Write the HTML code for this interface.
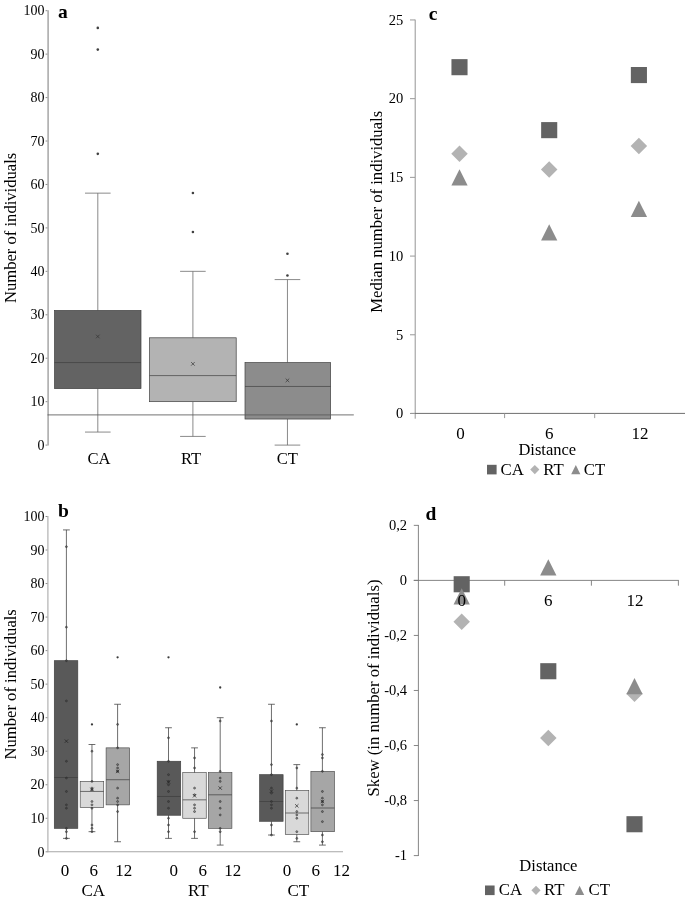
<!DOCTYPE html>
<html lang="en">
<head>
<meta charset="utf-8">
<title>Figure: number of individuals by treatment and distance</title>
<style>
html,body{margin:0;padding:0;background:#fff;}
body{width:685px;height:899px;overflow:hidden;}
svg{display:block;font-family:"Liberation Serif",serif;}
</style>
</head>
<body>
<svg width="685" height="899" viewBox="0 0 685 899">
<rect x="0" y="0" width="685" height="899" fill="#ffffff"/>
<line x1="48.1" y1="10.2" x2="48.1" y2="445.6" stroke="#a6a6a6" stroke-width="1.5"/>
<line x1="45.6" y1="445.1" x2="47.4" y2="445.1" stroke="#8c8c8c" stroke-width="1"/>
<text x="44.4" y="449.8" font-size="14" text-anchor="end" fill="#000">0</text>
<line x1="45.6" y1="401.66" x2="47.4" y2="401.66" stroke="#8c8c8c" stroke-width="1"/>
<text x="44.4" y="406.36" font-size="14" text-anchor="end" fill="#000">10</text>
<line x1="45.6" y1="358.22" x2="47.4" y2="358.22" stroke="#8c8c8c" stroke-width="1"/>
<text x="44.4" y="362.92" font-size="14" text-anchor="end" fill="#000">20</text>
<line x1="45.6" y1="314.78" x2="47.4" y2="314.78" stroke="#8c8c8c" stroke-width="1"/>
<text x="44.4" y="319.48" font-size="14" text-anchor="end" fill="#000">30</text>
<line x1="45.6" y1="271.34" x2="47.4" y2="271.34" stroke="#8c8c8c" stroke-width="1"/>
<text x="44.4" y="276.04" font-size="14" text-anchor="end" fill="#000">40</text>
<line x1="45.6" y1="227.9" x2="47.4" y2="227.9" stroke="#8c8c8c" stroke-width="1"/>
<text x="44.4" y="232.6" font-size="14" text-anchor="end" fill="#000">50</text>
<line x1="45.6" y1="184.46" x2="47.4" y2="184.46" stroke="#8c8c8c" stroke-width="1"/>
<text x="44.4" y="189.16" font-size="14" text-anchor="end" fill="#000">60</text>
<line x1="45.6" y1="141.02" x2="47.4" y2="141.02" stroke="#8c8c8c" stroke-width="1"/>
<text x="44.4" y="145.72" font-size="14" text-anchor="end" fill="#000">70</text>
<line x1="45.6" y1="97.58" x2="47.4" y2="97.58" stroke="#8c8c8c" stroke-width="1"/>
<text x="44.4" y="102.28" font-size="14" text-anchor="end" fill="#000">80</text>
<line x1="45.6" y1="54.14" x2="47.4" y2="54.14" stroke="#8c8c8c" stroke-width="1"/>
<text x="44.4" y="58.84" font-size="14" text-anchor="end" fill="#000">90</text>
<line x1="45.6" y1="10.7" x2="47.4" y2="10.7" stroke="#8c8c8c" stroke-width="1"/>
<text x="44.4" y="15.4" font-size="14" text-anchor="end" fill="#000">100</text>
<text x="16.4" y="227.9" font-size="16.6" text-anchor="middle" transform="rotate(-90 16.4 227.9)" fill="#000">Number of individuals</text>
<text x="62.8" y="18.1" font-size="19.5" text-anchor="middle" font-weight="bold" fill="#000">a</text>
<line x1="97.8" y1="193.15" x2="97.8" y2="310.44" stroke="#6c6c6c" stroke-width="0.8"/>
<line x1="97.8" y1="388.63" x2="97.8" y2="432.07" stroke="#6c6c6c" stroke-width="0.8"/>
<line x1="85" y1="193.15" x2="110.6" y2="193.15" stroke="#6c6c6c" stroke-width="0.8"/>
<line x1="85" y1="432.07" x2="110.6" y2="432.07" stroke="#6c6c6c" stroke-width="0.8"/>
<rect x="54.5" y="310.44" width="86.5" height="78.19" fill="#636363" stroke="#404040" stroke-width="0.7"/>
<line x1="54.5" y1="362.56" x2="141" y2="362.56" stroke="#404040" stroke-width="0.7"/>
<path d="M96 334.7L99.6 338.3M96 338.3L99.6 334.7" stroke="#333" stroke-width="0.7" fill="none"/>
<circle cx="97.8" cy="27.88" r="1.3" fill="#404040"/>
<circle cx="97.8" cy="49.6" r="1.3" fill="#404040"/>
<circle cx="97.8" cy="153.85" r="1.3" fill="#404040"/>
<line x1="192.9" y1="271.34" x2="192.9" y2="337.8" stroke="#6c6c6c" stroke-width="0.8"/>
<line x1="192.9" y1="401.66" x2="192.9" y2="436.41" stroke="#6c6c6c" stroke-width="0.8"/>
<line x1="180.1" y1="271.34" x2="205.7" y2="271.34" stroke="#6c6c6c" stroke-width="0.8"/>
<line x1="180.1" y1="436.41" x2="205.7" y2="436.41" stroke="#6c6c6c" stroke-width="0.8"/>
<rect x="149.5" y="337.8" width="86.7" height="63.86" fill="#b3b3b3" stroke="#404040" stroke-width="0.7"/>
<line x1="149.5" y1="375.6" x2="236.2" y2="375.6" stroke="#404040" stroke-width="0.7"/>
<path d="M191.1 362.07L194.7 365.67M191.1 365.67L194.7 362.07" stroke="#333" stroke-width="0.7" fill="none"/>
<circle cx="192.9" cy="192.95" r="1.3" fill="#404040"/>
<circle cx="192.9" cy="232.04" r="1.3" fill="#404040"/>
<line x1="287.45" y1="279.59" x2="287.45" y2="362.56" stroke="#6c6c6c" stroke-width="0.8"/>
<line x1="287.45" y1="419.04" x2="287.45" y2="445.1" stroke="#6c6c6c" stroke-width="0.8"/>
<line x1="274.65" y1="279.59" x2="300.25" y2="279.59" stroke="#6c6c6c" stroke-width="0.8"/>
<line x1="274.65" y1="445.1" x2="300.25" y2="445.1" stroke="#6c6c6c" stroke-width="0.8"/>
<rect x="245" y="362.56" width="85.6" height="56.47" fill="#8c8c8c" stroke="#404040" stroke-width="0.7"/>
<line x1="245" y1="386.46" x2="330.6" y2="386.46" stroke="#404040" stroke-width="0.7"/>
<path d="M285.65 378.57L289.25 382.17M285.65 382.17L289.25 378.57" stroke="#333" stroke-width="0.7" fill="none"/>
<circle cx="287.45" cy="253.76" r="1.3" fill="#404040"/>
<circle cx="287.45" cy="275.48" r="1.3" fill="#404040"/>
<line x1="47.5" y1="414.9" x2="353.8" y2="414.9" stroke="#5a5a5a" stroke-width="0.85"/>
<text x="99" y="464.4" font-size="16.6" text-anchor="middle" fill="#000">CA</text>
<text x="191.1" y="464.4" font-size="16.6" text-anchor="middle" fill="#000">RT</text>
<text x="287.4" y="464.4" font-size="16.6" text-anchor="middle" fill="#000">CT</text>
<line x1="47.9" y1="516" x2="47.9" y2="852.3" stroke="#b4b4b4" stroke-width="1.25"/>
<line x1="47.2" y1="851.7" x2="343" y2="851.7" stroke="#a6a6a6" stroke-width="1.1"/>
<line x1="45.6" y1="851.8" x2="47.4" y2="851.8" stroke="#8c8c8c" stroke-width="1"/>
<text x="44.4" y="856.5" font-size="14" text-anchor="end" fill="#000">0</text>
<line x1="45.6" y1="818.27" x2="47.4" y2="818.27" stroke="#8c8c8c" stroke-width="1"/>
<text x="44.4" y="822.97" font-size="14" text-anchor="end" fill="#000">10</text>
<line x1="45.6" y1="784.74" x2="47.4" y2="784.74" stroke="#8c8c8c" stroke-width="1"/>
<text x="44.4" y="789.44" font-size="14" text-anchor="end" fill="#000">20</text>
<line x1="45.6" y1="751.21" x2="47.4" y2="751.21" stroke="#8c8c8c" stroke-width="1"/>
<text x="44.4" y="755.91" font-size="14" text-anchor="end" fill="#000">30</text>
<line x1="45.6" y1="717.68" x2="47.4" y2="717.68" stroke="#8c8c8c" stroke-width="1"/>
<text x="44.4" y="722.38" font-size="14" text-anchor="end" fill="#000">40</text>
<line x1="45.6" y1="684.15" x2="47.4" y2="684.15" stroke="#8c8c8c" stroke-width="1"/>
<text x="44.4" y="688.85" font-size="14" text-anchor="end" fill="#000">50</text>
<line x1="45.6" y1="650.62" x2="47.4" y2="650.62" stroke="#8c8c8c" stroke-width="1"/>
<text x="44.4" y="655.32" font-size="14" text-anchor="end" fill="#000">60</text>
<line x1="45.6" y1="617.09" x2="47.4" y2="617.09" stroke="#8c8c8c" stroke-width="1"/>
<text x="44.4" y="621.79" font-size="14" text-anchor="end" fill="#000">70</text>
<line x1="45.6" y1="583.56" x2="47.4" y2="583.56" stroke="#8c8c8c" stroke-width="1"/>
<text x="44.4" y="588.26" font-size="14" text-anchor="end" fill="#000">80</text>
<line x1="45.6" y1="550.03" x2="47.4" y2="550.03" stroke="#8c8c8c" stroke-width="1"/>
<text x="44.4" y="554.73" font-size="14" text-anchor="end" fill="#000">90</text>
<line x1="45.6" y1="516.5" x2="47.4" y2="516.5" stroke="#8c8c8c" stroke-width="1"/>
<text x="44.4" y="521.2" font-size="14" text-anchor="end" fill="#000">100</text>
<text x="16.4" y="684.3" font-size="16.6" text-anchor="middle" transform="rotate(-90 16.4 684.3)" fill="#000">Number of individuals</text>
<text x="63.4" y="516.5" font-size="19.5" text-anchor="middle" font-weight="bold" fill="#000">b</text>
<rect x="54.3" y="660.68" width="23.5" height="167.65" fill="#595959" stroke="#3d3d3d" stroke-width="0.65"/>
<line x1="66.4" y1="529.91" x2="66.4" y2="660.68" stroke="#3d3d3d" stroke-width="0.75"/>
<line x1="66.4" y1="828.33" x2="66.4" y2="838.39" stroke="#3d3d3d" stroke-width="0.75"/>
<line x1="63" y1="529.91" x2="69.8" y2="529.91" stroke="#3d3d3d" stroke-width="0.75"/>
<line x1="63" y1="838.39" x2="69.8" y2="838.39" stroke="#3d3d3d" stroke-width="0.75"/>
<line x1="54.3" y1="777.5" x2="77.8" y2="777.5" stroke="#3d3d3d" stroke-width="0.7"/>
<circle cx="66.4" cy="546.68" r="0.95" fill="#333" fill-opacity="0.4" stroke="#2e2e2e" stroke-width="0.6"/>
<circle cx="66.4" cy="627.15" r="0.95" fill="#333" fill-opacity="0.4" stroke="#2e2e2e" stroke-width="0.6"/>
<circle cx="66.4" cy="660.68" r="0.95" fill="#333" fill-opacity="0.4" stroke="#2e2e2e" stroke-width="0.6"/>
<circle cx="66.4" cy="700.91" r="0.95" fill="#333" fill-opacity="0.4" stroke="#2e2e2e" stroke-width="0.6"/>
<circle cx="66.4" cy="761.27" r="0.95" fill="#333" fill-opacity="0.4" stroke="#2e2e2e" stroke-width="0.6"/>
<circle cx="66.4" cy="778.03" r="0.95" fill="#333" fill-opacity="0.4" stroke="#2e2e2e" stroke-width="0.6"/>
<circle cx="66.4" cy="791.45" r="0.95" fill="#333" fill-opacity="0.4" stroke="#2e2e2e" stroke-width="0.6"/>
<circle cx="66.4" cy="804.86" r="0.95" fill="#333" fill-opacity="0.4" stroke="#2e2e2e" stroke-width="0.6"/>
<circle cx="66.4" cy="808.21" r="0.95" fill="#333" fill-opacity="0.4" stroke="#2e2e2e" stroke-width="0.6"/>
<circle cx="66.4" cy="828.33" r="0.95" fill="#333" fill-opacity="0.4" stroke="#2e2e2e" stroke-width="0.6"/>
<circle cx="66.4" cy="831.68" r="0.95" fill="#333" fill-opacity="0.4" stroke="#2e2e2e" stroke-width="0.6"/>
<circle cx="66.4" cy="838.39" r="0.95" fill="#333" fill-opacity="0.4" stroke="#2e2e2e" stroke-width="0.6"/>
<path d="M64.7 739.45L68.1 742.85M64.7 742.85L68.1 739.45" stroke="#222" stroke-width="0.7" fill="none"/>
<rect x="80.2" y="781.39" width="23.5" height="26.15" fill="#d9d9d9" stroke="#4a4a4a" stroke-width="0.65"/>
<line x1="91.96" y1="744.5" x2="91.96" y2="781.39" stroke="#3d3d3d" stroke-width="0.75"/>
<line x1="91.96" y1="807.54" x2="91.96" y2="831.68" stroke="#3d3d3d" stroke-width="0.75"/>
<line x1="88.56" y1="744.5" x2="95.36" y2="744.5" stroke="#3d3d3d" stroke-width="0.75"/>
<line x1="88.56" y1="831.68" x2="95.36" y2="831.68" stroke="#3d3d3d" stroke-width="0.75"/>
<line x1="80.2" y1="791.45" x2="103.7" y2="791.45" stroke="#3d3d3d" stroke-width="0.7"/>
<circle cx="91.96" cy="751.21" r="0.95" fill="#333" fill-opacity="0.4" stroke="#2e2e2e" stroke-width="0.6"/>
<circle cx="91.96" cy="781.39" r="0.95" fill="#333" fill-opacity="0.4" stroke="#2e2e2e" stroke-width="0.6"/>
<circle cx="91.96" cy="788.09" r="0.95" fill="#333" fill-opacity="0.4" stroke="#2e2e2e" stroke-width="0.6"/>
<circle cx="91.96" cy="789.77" r="0.95" fill="#333" fill-opacity="0.4" stroke="#2e2e2e" stroke-width="0.6"/>
<circle cx="91.96" cy="801.5" r="0.95" fill="#333" fill-opacity="0.4" stroke="#2e2e2e" stroke-width="0.6"/>
<circle cx="91.96" cy="804.86" r="0.95" fill="#333" fill-opacity="0.4" stroke="#2e2e2e" stroke-width="0.6"/>
<circle cx="91.96" cy="808.21" r="0.95" fill="#333" fill-opacity="0.4" stroke="#2e2e2e" stroke-width="0.6"/>
<circle cx="91.96" cy="824.98" r="0.95" fill="#333" fill-opacity="0.4" stroke="#2e2e2e" stroke-width="0.6"/>
<circle cx="91.96" cy="828.33" r="0.95" fill="#333" fill-opacity="0.4" stroke="#2e2e2e" stroke-width="0.6"/>
<circle cx="91.96" cy="831.68" r="0.95" fill="#333" fill-opacity="0.4" stroke="#2e2e2e" stroke-width="0.6"/>
<circle cx="91.96" cy="724.39" r="1.15" fill="#3a3a3a"/>
<path d="M90.26 787.73L93.66 791.13M90.26 791.13L93.66 787.73" stroke="#222" stroke-width="0.7" fill="none"/>
<rect x="106.1" y="747.86" width="23.5" height="57" fill="#a6a6a6" stroke="#4a4a4a" stroke-width="0.65"/>
<line x1="117.6" y1="704.27" x2="117.6" y2="747.86" stroke="#3d3d3d" stroke-width="0.75"/>
<line x1="117.6" y1="804.86" x2="117.6" y2="841.74" stroke="#3d3d3d" stroke-width="0.75"/>
<line x1="114.2" y1="704.27" x2="121" y2="704.27" stroke="#3d3d3d" stroke-width="0.75"/>
<line x1="114.2" y1="841.74" x2="121" y2="841.74" stroke="#3d3d3d" stroke-width="0.75"/>
<line x1="106.1" y1="779.71" x2="129.6" y2="779.71" stroke="#3d3d3d" stroke-width="0.7"/>
<circle cx="117.6" cy="724.39" r="0.95" fill="#333" fill-opacity="0.4" stroke="#2e2e2e" stroke-width="0.6"/>
<circle cx="117.6" cy="747.86" r="0.95" fill="#333" fill-opacity="0.4" stroke="#2e2e2e" stroke-width="0.6"/>
<circle cx="117.6" cy="764.62" r="0.95" fill="#333" fill-opacity="0.4" stroke="#2e2e2e" stroke-width="0.6"/>
<circle cx="117.6" cy="767.97" r="0.95" fill="#333" fill-opacity="0.4" stroke="#2e2e2e" stroke-width="0.6"/>
<circle cx="117.6" cy="771.33" r="0.95" fill="#333" fill-opacity="0.4" stroke="#2e2e2e" stroke-width="0.6"/>
<circle cx="117.6" cy="788.09" r="0.95" fill="#333" fill-opacity="0.4" stroke="#2e2e2e" stroke-width="0.6"/>
<circle cx="117.6" cy="798.15" r="0.95" fill="#333" fill-opacity="0.4" stroke="#2e2e2e" stroke-width="0.6"/>
<circle cx="117.6" cy="801.5" r="0.95" fill="#333" fill-opacity="0.4" stroke="#2e2e2e" stroke-width="0.6"/>
<circle cx="117.6" cy="804.86" r="0.95" fill="#333" fill-opacity="0.4" stroke="#2e2e2e" stroke-width="0.6"/>
<circle cx="117.6" cy="811.56" r="0.95" fill="#333" fill-opacity="0.4" stroke="#2e2e2e" stroke-width="0.6"/>
<circle cx="117.6" cy="657.33" r="1.15" fill="#3a3a3a"/>
<path d="M115.9 769.63L119.3 773.03M115.9 773.03L119.3 769.63" stroke="#222" stroke-width="0.7" fill="none"/>
<rect x="157.2" y="761.27" width="23.5" height="53.98" fill="#595959" stroke="#3d3d3d" stroke-width="0.65"/>
<line x1="168.5" y1="727.74" x2="168.5" y2="761.27" stroke="#3d3d3d" stroke-width="0.75"/>
<line x1="168.5" y1="815.25" x2="168.5" y2="838.39" stroke="#3d3d3d" stroke-width="0.75"/>
<line x1="165.1" y1="727.74" x2="171.9" y2="727.74" stroke="#3d3d3d" stroke-width="0.75"/>
<line x1="165.1" y1="838.39" x2="171.9" y2="838.39" stroke="#3d3d3d" stroke-width="0.75"/>
<line x1="157.2" y1="796.48" x2="180.7" y2="796.48" stroke="#3d3d3d" stroke-width="0.7"/>
<circle cx="168.5" cy="737.8" r="0.95" fill="#333" fill-opacity="0.4" stroke="#2e2e2e" stroke-width="0.6"/>
<circle cx="168.5" cy="761.27" r="0.95" fill="#333" fill-opacity="0.4" stroke="#2e2e2e" stroke-width="0.6"/>
<circle cx="168.5" cy="774.68" r="0.95" fill="#333" fill-opacity="0.4" stroke="#2e2e2e" stroke-width="0.6"/>
<circle cx="168.5" cy="781.39" r="0.95" fill="#333" fill-opacity="0.4" stroke="#2e2e2e" stroke-width="0.6"/>
<circle cx="168.5" cy="784.74" r="0.95" fill="#333" fill-opacity="0.4" stroke="#2e2e2e" stroke-width="0.6"/>
<circle cx="168.5" cy="791.45" r="0.95" fill="#333" fill-opacity="0.4" stroke="#2e2e2e" stroke-width="0.6"/>
<circle cx="168.5" cy="801.5" r="0.95" fill="#333" fill-opacity="0.4" stroke="#2e2e2e" stroke-width="0.6"/>
<circle cx="168.5" cy="808.21" r="0.95" fill="#333" fill-opacity="0.4" stroke="#2e2e2e" stroke-width="0.6"/>
<circle cx="168.5" cy="818.27" r="0.95" fill="#333" fill-opacity="0.4" stroke="#2e2e2e" stroke-width="0.6"/>
<circle cx="168.5" cy="824.98" r="0.95" fill="#333" fill-opacity="0.4" stroke="#2e2e2e" stroke-width="0.6"/>
<circle cx="168.5" cy="831.68" r="0.95" fill="#333" fill-opacity="0.4" stroke="#2e2e2e" stroke-width="0.6"/>
<circle cx="168.5" cy="657.33" r="1.15" fill="#3a3a3a"/>
<path d="M166.8 780.36L170.2 783.76M166.8 783.76L170.2 780.36" stroke="#222" stroke-width="0.7" fill="none"/>
<rect x="182.75" y="772.67" width="23.5" height="45.6" fill="#d9d9d9" stroke="#4a4a4a" stroke-width="0.65"/>
<line x1="194.55" y1="747.86" x2="194.55" y2="772.67" stroke="#3d3d3d" stroke-width="0.75"/>
<line x1="194.55" y1="818.27" x2="194.55" y2="838.39" stroke="#3d3d3d" stroke-width="0.75"/>
<line x1="191.15" y1="747.86" x2="197.95" y2="747.86" stroke="#3d3d3d" stroke-width="0.75"/>
<line x1="191.15" y1="838.39" x2="197.95" y2="838.39" stroke="#3d3d3d" stroke-width="0.75"/>
<line x1="182.75" y1="799.83" x2="206.25" y2="799.83" stroke="#3d3d3d" stroke-width="0.7"/>
<circle cx="194.55" cy="757.92" r="0.95" fill="#333" fill-opacity="0.4" stroke="#2e2e2e" stroke-width="0.6"/>
<circle cx="194.55" cy="767.97" r="0.95" fill="#333" fill-opacity="0.4" stroke="#2e2e2e" stroke-width="0.6"/>
<circle cx="194.55" cy="788.09" r="0.95" fill="#333" fill-opacity="0.4" stroke="#2e2e2e" stroke-width="0.6"/>
<circle cx="194.55" cy="794.8" r="0.95" fill="#333" fill-opacity="0.4" stroke="#2e2e2e" stroke-width="0.6"/>
<circle cx="194.55" cy="804.86" r="0.95" fill="#333" fill-opacity="0.4" stroke="#2e2e2e" stroke-width="0.6"/>
<circle cx="194.55" cy="808.21" r="0.95" fill="#333" fill-opacity="0.4" stroke="#2e2e2e" stroke-width="0.6"/>
<circle cx="194.55" cy="811.56" r="0.95" fill="#333" fill-opacity="0.4" stroke="#2e2e2e" stroke-width="0.6"/>
<circle cx="194.55" cy="831.68" r="0.95" fill="#333" fill-opacity="0.4" stroke="#2e2e2e" stroke-width="0.6"/>
<path d="M192.85 794.1L196.25 797.5M192.85 797.5L196.25 794.1" stroke="#222" stroke-width="0.7" fill="none"/>
<rect x="208.4" y="772.67" width="23.5" height="55.66" fill="#a6a6a6" stroke="#4a4a4a" stroke-width="0.65"/>
<line x1="220.2" y1="717.68" x2="220.2" y2="772.67" stroke="#3d3d3d" stroke-width="0.75"/>
<line x1="220.2" y1="828.33" x2="220.2" y2="845.09" stroke="#3d3d3d" stroke-width="0.75"/>
<line x1="216.8" y1="717.68" x2="223.6" y2="717.68" stroke="#3d3d3d" stroke-width="0.75"/>
<line x1="216.8" y1="845.09" x2="223.6" y2="845.09" stroke="#3d3d3d" stroke-width="0.75"/>
<line x1="208.4" y1="794.8" x2="231.9" y2="794.8" stroke="#3d3d3d" stroke-width="0.7"/>
<circle cx="220.2" cy="721.03" r="0.95" fill="#333" fill-opacity="0.4" stroke="#2e2e2e" stroke-width="0.6"/>
<circle cx="220.2" cy="771.33" r="0.95" fill="#333" fill-opacity="0.4" stroke="#2e2e2e" stroke-width="0.6"/>
<circle cx="220.2" cy="778.03" r="0.95" fill="#333" fill-opacity="0.4" stroke="#2e2e2e" stroke-width="0.6"/>
<circle cx="220.2" cy="781.39" r="0.95" fill="#333" fill-opacity="0.4" stroke="#2e2e2e" stroke-width="0.6"/>
<circle cx="220.2" cy="801.5" r="0.95" fill="#333" fill-opacity="0.4" stroke="#2e2e2e" stroke-width="0.6"/>
<circle cx="220.2" cy="808.21" r="0.95" fill="#333" fill-opacity="0.4" stroke="#2e2e2e" stroke-width="0.6"/>
<circle cx="220.2" cy="814.92" r="0.95" fill="#333" fill-opacity="0.4" stroke="#2e2e2e" stroke-width="0.6"/>
<circle cx="220.2" cy="828.33" r="0.95" fill="#333" fill-opacity="0.4" stroke="#2e2e2e" stroke-width="0.6"/>
<circle cx="220.2" cy="831.68" r="0.95" fill="#333" fill-opacity="0.4" stroke="#2e2e2e" stroke-width="0.6"/>
<circle cx="220.2" cy="687.5" r="1.15" fill="#3a3a3a"/>
<path d="M218.5 786.39L221.9 789.79M218.5 789.79L221.9 786.39" stroke="#222" stroke-width="0.7" fill="none"/>
<rect x="259.6" y="774.68" width="23.5" height="46.61" fill="#595959" stroke="#3d3d3d" stroke-width="0.65"/>
<line x1="271.45" y1="704.27" x2="271.45" y2="774.68" stroke="#3d3d3d" stroke-width="0.75"/>
<line x1="271.45" y1="821.29" x2="271.45" y2="835.03" stroke="#3d3d3d" stroke-width="0.75"/>
<line x1="268.05" y1="704.27" x2="274.85" y2="704.27" stroke="#3d3d3d" stroke-width="0.75"/>
<line x1="268.05" y1="835.03" x2="274.85" y2="835.03" stroke="#3d3d3d" stroke-width="0.75"/>
<line x1="259.6" y1="801.5" x2="283.1" y2="801.5" stroke="#3d3d3d" stroke-width="0.7"/>
<circle cx="271.45" cy="721.03" r="0.95" fill="#333" fill-opacity="0.4" stroke="#2e2e2e" stroke-width="0.6"/>
<circle cx="271.45" cy="764.62" r="0.95" fill="#333" fill-opacity="0.4" stroke="#2e2e2e" stroke-width="0.6"/>
<circle cx="271.45" cy="774.68" r="0.95" fill="#333" fill-opacity="0.4" stroke="#2e2e2e" stroke-width="0.6"/>
<circle cx="271.45" cy="788.09" r="0.95" fill="#333" fill-opacity="0.4" stroke="#2e2e2e" stroke-width="0.6"/>
<circle cx="271.45" cy="793.12" r="0.95" fill="#333" fill-opacity="0.4" stroke="#2e2e2e" stroke-width="0.6"/>
<circle cx="271.45" cy="801.5" r="0.95" fill="#333" fill-opacity="0.4" stroke="#2e2e2e" stroke-width="0.6"/>
<circle cx="271.45" cy="804.86" r="0.95" fill="#333" fill-opacity="0.4" stroke="#2e2e2e" stroke-width="0.6"/>
<circle cx="271.45" cy="808.21" r="0.95" fill="#333" fill-opacity="0.4" stroke="#2e2e2e" stroke-width="0.6"/>
<circle cx="271.45" cy="824.98" r="0.95" fill="#333" fill-opacity="0.4" stroke="#2e2e2e" stroke-width="0.6"/>
<circle cx="271.45" cy="835.03" r="0.95" fill="#333" fill-opacity="0.4" stroke="#2e2e2e" stroke-width="0.6"/>
<path d="M269.75 789.41L273.15 792.81M269.75 792.81L273.15 789.41" stroke="#222" stroke-width="0.7" fill="none"/>
<rect x="285.3" y="790.44" width="23.5" height="43.92" fill="#d9d9d9" stroke="#4a4a4a" stroke-width="0.65"/>
<line x1="296.8" y1="764.62" x2="296.8" y2="790.44" stroke="#3d3d3d" stroke-width="0.75"/>
<line x1="296.8" y1="834.36" x2="296.8" y2="841.74" stroke="#3d3d3d" stroke-width="0.75"/>
<line x1="293.4" y1="764.62" x2="300.2" y2="764.62" stroke="#3d3d3d" stroke-width="0.75"/>
<line x1="293.4" y1="841.74" x2="300.2" y2="841.74" stroke="#3d3d3d" stroke-width="0.75"/>
<line x1="285.3" y1="813.01" x2="308.8" y2="813.01" stroke="#3d3d3d" stroke-width="0.7"/>
<circle cx="296.8" cy="767.97" r="0.95" fill="#333" fill-opacity="0.4" stroke="#2e2e2e" stroke-width="0.6"/>
<circle cx="296.8" cy="788.09" r="0.95" fill="#333" fill-opacity="0.4" stroke="#2e2e2e" stroke-width="0.6"/>
<circle cx="296.8" cy="798.15" r="0.95" fill="#333" fill-opacity="0.4" stroke="#2e2e2e" stroke-width="0.6"/>
<circle cx="296.8" cy="811.56" r="0.95" fill="#333" fill-opacity="0.4" stroke="#2e2e2e" stroke-width="0.6"/>
<circle cx="296.8" cy="814.92" r="0.95" fill="#333" fill-opacity="0.4" stroke="#2e2e2e" stroke-width="0.6"/>
<circle cx="296.8" cy="818.27" r="0.95" fill="#333" fill-opacity="0.4" stroke="#2e2e2e" stroke-width="0.6"/>
<circle cx="296.8" cy="831.68" r="0.95" fill="#333" fill-opacity="0.4" stroke="#2e2e2e" stroke-width="0.6"/>
<circle cx="296.8" cy="838.39" r="0.95" fill="#333" fill-opacity="0.4" stroke="#2e2e2e" stroke-width="0.6"/>
<circle cx="296.8" cy="724.39" r="1.15" fill="#3a3a3a"/>
<path d="M295.1 804.16L298.5 807.56M295.1 807.56L298.5 804.16" stroke="#222" stroke-width="0.7" fill="none"/>
<rect x="310.9" y="771.33" width="23.5" height="60.35" fill="#a6a6a6" stroke="#4a4a4a" stroke-width="0.65"/>
<line x1="322.4" y1="727.74" x2="322.4" y2="771.33" stroke="#3d3d3d" stroke-width="0.75"/>
<line x1="322.4" y1="831.68" x2="322.4" y2="845.09" stroke="#3d3d3d" stroke-width="0.75"/>
<line x1="319" y1="727.74" x2="325.8" y2="727.74" stroke="#3d3d3d" stroke-width="0.75"/>
<line x1="319" y1="845.09" x2="325.8" y2="845.09" stroke="#3d3d3d" stroke-width="0.75"/>
<line x1="310.9" y1="808.01" x2="334.4" y2="808.01" stroke="#3d3d3d" stroke-width="0.7"/>
<circle cx="322.4" cy="754.56" r="0.95" fill="#333" fill-opacity="0.4" stroke="#2e2e2e" stroke-width="0.6"/>
<circle cx="322.4" cy="757.92" r="0.95" fill="#333" fill-opacity="0.4" stroke="#2e2e2e" stroke-width="0.6"/>
<circle cx="322.4" cy="771.33" r="0.95" fill="#333" fill-opacity="0.4" stroke="#2e2e2e" stroke-width="0.6"/>
<circle cx="322.4" cy="791.45" r="0.95" fill="#333" fill-opacity="0.4" stroke="#2e2e2e" stroke-width="0.6"/>
<circle cx="322.4" cy="798.15" r="0.95" fill="#333" fill-opacity="0.4" stroke="#2e2e2e" stroke-width="0.6"/>
<circle cx="322.4" cy="801.5" r="0.95" fill="#333" fill-opacity="0.4" stroke="#2e2e2e" stroke-width="0.6"/>
<circle cx="322.4" cy="804.86" r="0.95" fill="#333" fill-opacity="0.4" stroke="#2e2e2e" stroke-width="0.6"/>
<circle cx="322.4" cy="811.56" r="0.95" fill="#333" fill-opacity="0.4" stroke="#2e2e2e" stroke-width="0.6"/>
<circle cx="322.4" cy="821.62" r="0.95" fill="#333" fill-opacity="0.4" stroke="#2e2e2e" stroke-width="0.6"/>
<circle cx="322.4" cy="835.03" r="0.95" fill="#333" fill-opacity="0.4" stroke="#2e2e2e" stroke-width="0.6"/>
<circle cx="322.4" cy="841.74" r="0.95" fill="#333" fill-opacity="0.4" stroke="#2e2e2e" stroke-width="0.6"/>
<path d="M320.7 799.8L324.1 803.21M320.7 803.21L324.1 799.8" stroke="#222" stroke-width="0.7" fill="none"/>
<text x="65" y="875.5" font-size="17" text-anchor="middle" fill="#000">0</text>
<text x="93.8" y="875.5" font-size="17" text-anchor="middle" fill="#000">6</text>
<text x="123.7" y="875.5" font-size="17" text-anchor="middle" fill="#000">12</text>
<text x="173.7" y="875.5" font-size="17" text-anchor="middle" fill="#000">0</text>
<text x="202.7" y="875.5" font-size="17" text-anchor="middle" fill="#000">6</text>
<text x="232.7" y="875.5" font-size="17" text-anchor="middle" fill="#000">12</text>
<text x="286.9" y="875.5" font-size="17" text-anchor="middle" fill="#000">0</text>
<text x="315.7" y="875.5" font-size="17" text-anchor="middle" fill="#000">6</text>
<text x="341.5" y="875.5" font-size="17" text-anchor="middle" fill="#000">12</text>
<text x="93.2" y="895.5" font-size="17" text-anchor="middle" fill="#000">CA</text>
<text x="198.4" y="895.5" font-size="17" text-anchor="middle" fill="#000">RT</text>
<text x="298.4" y="895.5" font-size="17" text-anchor="middle" fill="#000">CT</text>
<line x1="415.2" y1="19.55" x2="415.2" y2="418.7" stroke="#8e8e8e" stroke-width="0.95"/>
<line x1="410.5" y1="413.4" x2="685" y2="413.4" stroke="#6e6e6e" stroke-width="1"/>
<line x1="410" y1="413.5" x2="415" y2="413.5" stroke="#999" stroke-width="1"/>
<text x="403.2" y="418.3" font-size="14.5" text-anchor="end" fill="#000">0</text>
<line x1="410" y1="334.79" x2="415" y2="334.79" stroke="#999" stroke-width="1"/>
<text x="403.2" y="339.59" font-size="14.5" text-anchor="end" fill="#000">5</text>
<line x1="410" y1="256.08" x2="415" y2="256.08" stroke="#999" stroke-width="1"/>
<text x="403.2" y="260.88" font-size="14.5" text-anchor="end" fill="#000">10</text>
<line x1="410" y1="177.37" x2="415" y2="177.37" stroke="#999" stroke-width="1"/>
<text x="403.2" y="182.17" font-size="14.5" text-anchor="end" fill="#000">15</text>
<line x1="410" y1="98.66" x2="415" y2="98.66" stroke="#999" stroke-width="1"/>
<text x="403.2" y="103.46" font-size="14.5" text-anchor="end" fill="#000">20</text>
<line x1="410" y1="19.95" x2="415" y2="19.95" stroke="#999" stroke-width="1"/>
<text x="403.2" y="24.75" font-size="14.5" text-anchor="end" fill="#000">25</text>
<line x1="504.6" y1="413.5" x2="504.6" y2="418.1" stroke="#999" stroke-width="1"/>
<line x1="594.7" y1="413.5" x2="594.7" y2="418.1" stroke="#999" stroke-width="1"/>
<text x="381.8" y="211.8" font-size="16.65" text-anchor="middle" transform="rotate(-90 381.8 211.8)" fill="#000">Median number of individuals</text>
<text x="433.2" y="19.6" font-size="19.5" text-anchor="middle" font-weight="bold" fill="#000">c</text>
<rect x="451.45" y="59.13" width="16.1" height="16.1" fill="#636363"/>
<rect x="541.15" y="122.09" width="16.1" height="16.1" fill="#636363"/>
<rect x="630.85" y="67" width="16.1" height="16.1" fill="#636363"/>
<path d="M459.5 145.51L467.75 153.76L459.5 162.01L451.25 153.76Z" fill="#b3b3b3"/>
<path d="M549.2 161.25L557.45 169.5L549.2 177.75L540.95 169.5Z" fill="#b3b3b3"/>
<path d="M638.9 137.64L647.15 145.89L638.9 154.14L630.65 145.89Z" fill="#b3b3b3"/>
<path d="M459.5 169.22L467.65 185.52L451.35 185.52Z" fill="#8c8c8c"/>
<path d="M549.2 224.32L557.35 240.62L541.05 240.62Z" fill="#8c8c8c"/>
<path d="M638.9 200.7L647.05 217L630.75 217Z" fill="#8c8c8c"/>
<text x="460.5" y="439" font-size="17" text-anchor="middle" fill="#000">0</text>
<text x="549.3" y="439" font-size="17" text-anchor="middle" fill="#000">6</text>
<text x="640" y="439" font-size="17" text-anchor="middle" fill="#000">12</text>
<text x="547.3" y="455" font-size="16.5" text-anchor="middle" fill="#000">Distance</text>
<rect x="487" y="464.8" width="9.6" height="9.6" fill="#636363"/>
<text x="500.5" y="474.6" font-size="16.8" text-anchor="start" fill="#000">CA</text>
<path d="M534.8 465L539.4 469.6L534.8 474.2L530.2 469.6Z" fill="#b3b3b3"/>
<text x="543.3" y="474.6" font-size="16.8" text-anchor="start" fill="#000">RT</text>
<path d="M575.8 465L580.4 474.2L571.2 474.2Z" fill="#8c8c8c"/>
<text x="583.7" y="474.6" font-size="16.8" text-anchor="start" fill="#000">CT</text>
<line x1="418.4" y1="524.96" x2="418.4" y2="856" stroke="#787878" stroke-width="0.9"/>
<line x1="413.8" y1="580.4" x2="678.8" y2="580.4" stroke="#787878" stroke-width="0.9"/>
<line x1="413.8" y1="525.36" x2="418.4" y2="525.36" stroke="#787878" stroke-width="0.9"/>
<text x="407.1" y="529.76" font-size="14.5" text-anchor="end" fill="#000">0,2</text>
<line x1="413.8" y1="580.4" x2="418.4" y2="580.4" stroke="#787878" stroke-width="0.9"/>
<text x="407.1" y="584.8" font-size="14.5" text-anchor="end" fill="#000">0</text>
<line x1="413.8" y1="635.44" x2="418.4" y2="635.44" stroke="#787878" stroke-width="0.9"/>
<text x="407.1" y="639.84" font-size="14.5" text-anchor="end" fill="#000">-0,2</text>
<line x1="413.8" y1="690.48" x2="418.4" y2="690.48" stroke="#787878" stroke-width="0.9"/>
<text x="407.1" y="694.88" font-size="14.5" text-anchor="end" fill="#000">-0,4</text>
<line x1="413.8" y1="745.52" x2="418.4" y2="745.52" stroke="#787878" stroke-width="0.9"/>
<text x="407.1" y="749.92" font-size="14.5" text-anchor="end" fill="#000">-0,6</text>
<line x1="413.8" y1="800.56" x2="418.4" y2="800.56" stroke="#787878" stroke-width="0.9"/>
<text x="407.1" y="804.96" font-size="14.5" text-anchor="end" fill="#000">-0,8</text>
<line x1="413.8" y1="855.6" x2="418.4" y2="855.6" stroke="#787878" stroke-width="0.9"/>
<text x="407.1" y="860" font-size="14.5" text-anchor="end" fill="#000">-1</text>
<line x1="504.7" y1="580.4" x2="504.7" y2="585.7" stroke="#787878" stroke-width="0.9"/>
<line x1="591.4" y1="580.4" x2="591.4" y2="585.7" stroke="#787878" stroke-width="0.9"/>
<line x1="678.4" y1="580.4" x2="678.4" y2="585.7" stroke="#787878" stroke-width="0.9"/>
<text x="378.9" y="688" font-size="16.7" text-anchor="middle" transform="rotate(-90 378.9 688)" fill="#000">Skew (in number of individuals)</text>
<text x="430.9" y="519.8" font-size="19.5" text-anchor="middle" font-weight="bold" fill="#000">d</text>
<rect x="453.65" y="576.2" width="16.1" height="16.1" fill="#636363"/>
<rect x="540.25" y="663.17" width="16.1" height="16.1" fill="#636363"/>
<rect x="626.45" y="816.18" width="16.1" height="16.1" fill="#636363"/>
<path d="M461.7 613.43L469.95 621.68L461.7 629.93L453.45 621.68Z" fill="#b3b3b3"/>
<path d="M548.3 729.84L556.55 738.09L548.3 746.34L540.05 738.09Z" fill="#b3b3b3"/>
<path d="M634.5 685.53L642.75 693.78L634.5 702.03L626.25 693.78Z" fill="#b3b3b3"/>
<path d="M461.7 588.21L469.85 604.51L453.55 604.51Z" fill="#8c8c8c"/>
<path d="M548.3 559.32L556.45 575.62L540.15 575.62Z" fill="#8c8c8c"/>
<path d="M634.5 677.93L642.65 694.23L626.35 694.23Z" fill="#8c8c8c"/>
<text x="461.8" y="606" font-size="17" text-anchor="middle" fill="#000">0</text>
<text x="548.3" y="606" font-size="17" text-anchor="middle" fill="#000">6</text>
<text x="635.1" y="606" font-size="17" text-anchor="middle" fill="#000">12</text>
<text x="548.4" y="871.2" font-size="16.6" text-anchor="middle" fill="#000">Distance</text>
<rect x="485" y="885.5" width="9.6" height="9.6" fill="#636363"/>
<text x="498.8" y="895.3" font-size="16.8" text-anchor="start" fill="#000">CA</text>
<path d="M536 885.7L540.6 890.3L536 894.9L531.4 890.3Z" fill="#b3b3b3"/>
<text x="544" y="895.3" font-size="16.8" text-anchor="start" fill="#000">RT</text>
<path d="M579.6 885.7L584.2 894.9L575 894.9Z" fill="#8c8c8c"/>
<text x="588.5" y="895.3" font-size="16.8" text-anchor="start" fill="#000">CT</text>
</svg>
</body>
</html>
